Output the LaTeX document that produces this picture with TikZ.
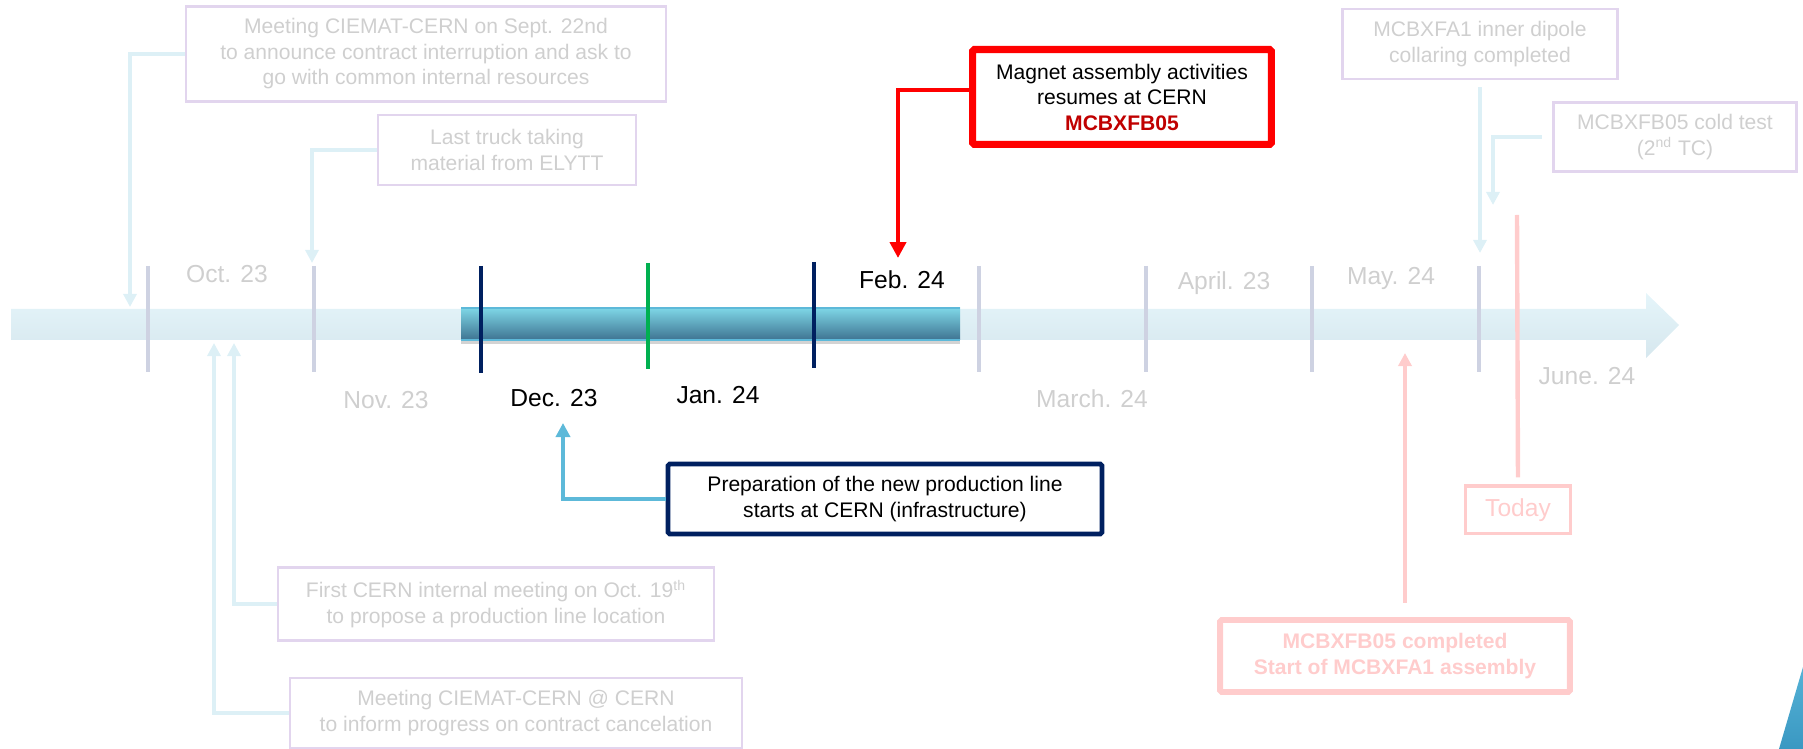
\documentclass[tikz,border=0pt]{standalone}
\usepackage{fontspec}
\setmainfont{Liberation Sans}
\usetikzlibrary{arrows.meta,shadows}
\definecolor{navy}{HTML}{002060}
\definecolor{fadetxt}{HTML}{CFCFCF}
\definecolor{fadeedge}{HTML}{E2D5EE}
\definecolor{fadetick}{HTML}{CED2E2}
\definecolor{paleblue}{HTML}{DDF0F6}
\definecolor{midblue}{HTML}{5DB9D9}
\definecolor{softpink}{HTML}{FFCCCC}
\definecolor{darkred}{HTML}{C00000}
\definecolor{okgreen}{HTML}{00B050}
\definecolor{barhi}{HTML}{E5F5FA}
\definecolor{barlo}{HTML}{D6E7EE}
\definecolor{darkhi}{HTML}{7ED6E6}
\definecolor{darklo}{HTML}{3E7391}
\definecolor{wedgehi}{HTML}{55B2D6}
\definecolor{wedgelo}{HTML}{3A98C2}
\begin{document}
\begin{tikzpicture}[x=0.02cm,y=-0.02cm,
    every node/.style={font=\fontsize{12}{14.5}\selectfont, align=center, inner sep=0pt},
    fadebox/.style={draw=fadeedge, line width=1.4pt, text=fadetxt},
    month/.style={font=\fontsize{14}{16}\selectfont, text=fadetxt},
    tickline/.style={line width=2.3pt, fadetick},
    paleline/.style={paleblue, line width=2.5pt, -{Triangle[length=7.5pt,width=7.5pt]}},
  ]
  \useasboundingbox (0,0) rectangle (1803,749);

  \shade[top color=barhi, bottom color=barlo] (11,309) -- (1646,309) -- (1646,293) -- (1679,325) -- (1646,358) -- (1646,340) -- (11,340) -- cycle;
  \shade[top color=darkhi, bottom color=darklo, drop shadow={opacity=0.35,shadow xshift=0pt,shadow yshift=-2pt}] (461,308) rectangle (960,340);
  \draw[midblue, line width=1.2pt] (461,308) -- (960,308) (461,340) -- (960,340);

  \foreach \x in {148,314,979,1146,1312,1479}
    \draw[tickline] (\x,266) -- (\x,372);
  \draw[tickline, navy] (481,266) -- (481,373);
  \draw[tickline, okgreen] (648,263) -- (648,369);
  \draw[tickline, navy] (814,262) -- (814,368);

  \node[month] (oct) at (227,274) {Oct. 23};
  \node[month] (nov) at (386,400) {Nov. 23};
  \node[month, text=black] (dec) at (554,398) {Dec. 23};
  \node[month, text=black] (jan) at (718,395) {Jan. 24};
  \node[month, text=black] (feb) at (902,280) {Feb. 24};
  \node[month] (mar) at (1092,399) {March. 24};
  \node[month] (apr) at (1224,283) {April. 23};
  \node[month] (may) at (1391,278) {May. 24};
  \node[month] (jun) at (1587,376) {June. 24};

  \node[fadebox, minimum width=9.6cm, minimum height=1.9cm] (sept) at (426,54) {Meeting CIEMAT-CERN on Sept. 22nd\\to announce contract interruption and ask to\\go with common internal resources};
  \node[fadebox, minimum width=5.16cm, minimum height=1.4cm] (truck) at (507,150) {Last truck taking\\material from ELYTT};
  \node[draw=red, line width=4pt, rounded corners=1pt, minimum width=5.98cm, minimum height=1.9cm] (resume) at (1122,97) {Magnet assembly activities\\resumes at CERN\\\textcolor{darkred}{\textbf{MCBXFB05}}};
  \node[fadebox, minimum width=5.5cm, minimum height=1.4cm] (collar) at (1480,44) {MCBXFA1 inner dipole\\collaring completed};
  \node[fadebox, minimum width=4.86cm, minimum height=1.38cm] (coldtest) at (1675,137) {MCBXFB05 cold test\\(2\textsuperscript{nd} TC)};
  \node[draw=navy, line width=2.7pt, rounded corners=1pt, minimum width=8.68cm, minimum height=1.4cm] (prep) at (885,499) {Preparation of the new production line\\starts at CERN (infrastructure)};
  \node[fadebox, minimum width=8.72cm, minimum height=1.46cm] (firstmeet) at (496,604) {First CERN internal meeting on Oct. 19\textsuperscript{th}\\to propose a production line location};
  \node[fadebox, minimum width=9.04cm, minimum height=1.4cm] (cancel) at (516,713) {Meeting CIEMAT-CERN @ CERN\\to inform progress on contract cancelation};
  \node[draw=softpink, line width=2pt, text=softpink, font=\fontsize{14}{16}\selectfont, minimum width=2.1cm, minimum height=0.95cm] (today) at (1518,510) {Today};
  \node[draw=softpink, line width=3.4pt, rounded corners=1pt, text=softpink, font=\fontsize{12}{14.5}\selectfont\bfseries, minimum width=7.0cm, minimum height=1.44cm] (done) at (1395,656) {MCBXFB05 completed\\Start of MCBXFA1 assembly};

  \coordinate (septend) at (130,307);
  \coordinate (truckend) at (312,263);
  \coordinate (resumeend) at (898,258);
  \coordinate (collarend) at (1480,253);
  \coordinate (coldend) at (1493,205);
  \coordinate (todaytop) at (1517,215);
  \coordinate (doneend) at (1405,353);
  \coordinate (prepend) at (563,423);
  \coordinate (firstend) at (234,343);
  \coordinate (cancelend) at (214,343);

  \draw[paleline] (sept.west) -| (septend);
  \draw[paleline] (truck.west) -| (truckend);
  \draw[red, line width=2.8pt, -{Triangle[length=9pt,width=9pt]}] ([yshift=0.14cm]resume.west) -| (resumeend);
  \draw[paleline, shorten <=4pt] (collar.south) -- (collarend);
  \draw[paleline, shorten <=6pt] (coldtest.west) -| (coldend);
  \draw[softpink, line width=2.5pt, shorten >=4pt] (todaytop) -- (today.north);
  \draw[softpink, line width=2.3pt, shorten <=8pt, -{Triangle[length=7.5pt,width=7.5pt]}] (doneend |- done.north) -- (doneend);
  \draw[midblue, line width=2.8pt, -{Triangle[length=8pt,width=8pt]}] (prep.west) -| (prepend);
  \draw[paleline] (firstmeet.west) -| (firstend);
  \draw[paleline] (cancel.west) -| (cancelend);

  \shade[top color=wedgehi, bottom color=wedgelo] (1803,667) -- (1803,749) -- (1779,749) -- cycle;
\end{tikzpicture}
\end{document}
